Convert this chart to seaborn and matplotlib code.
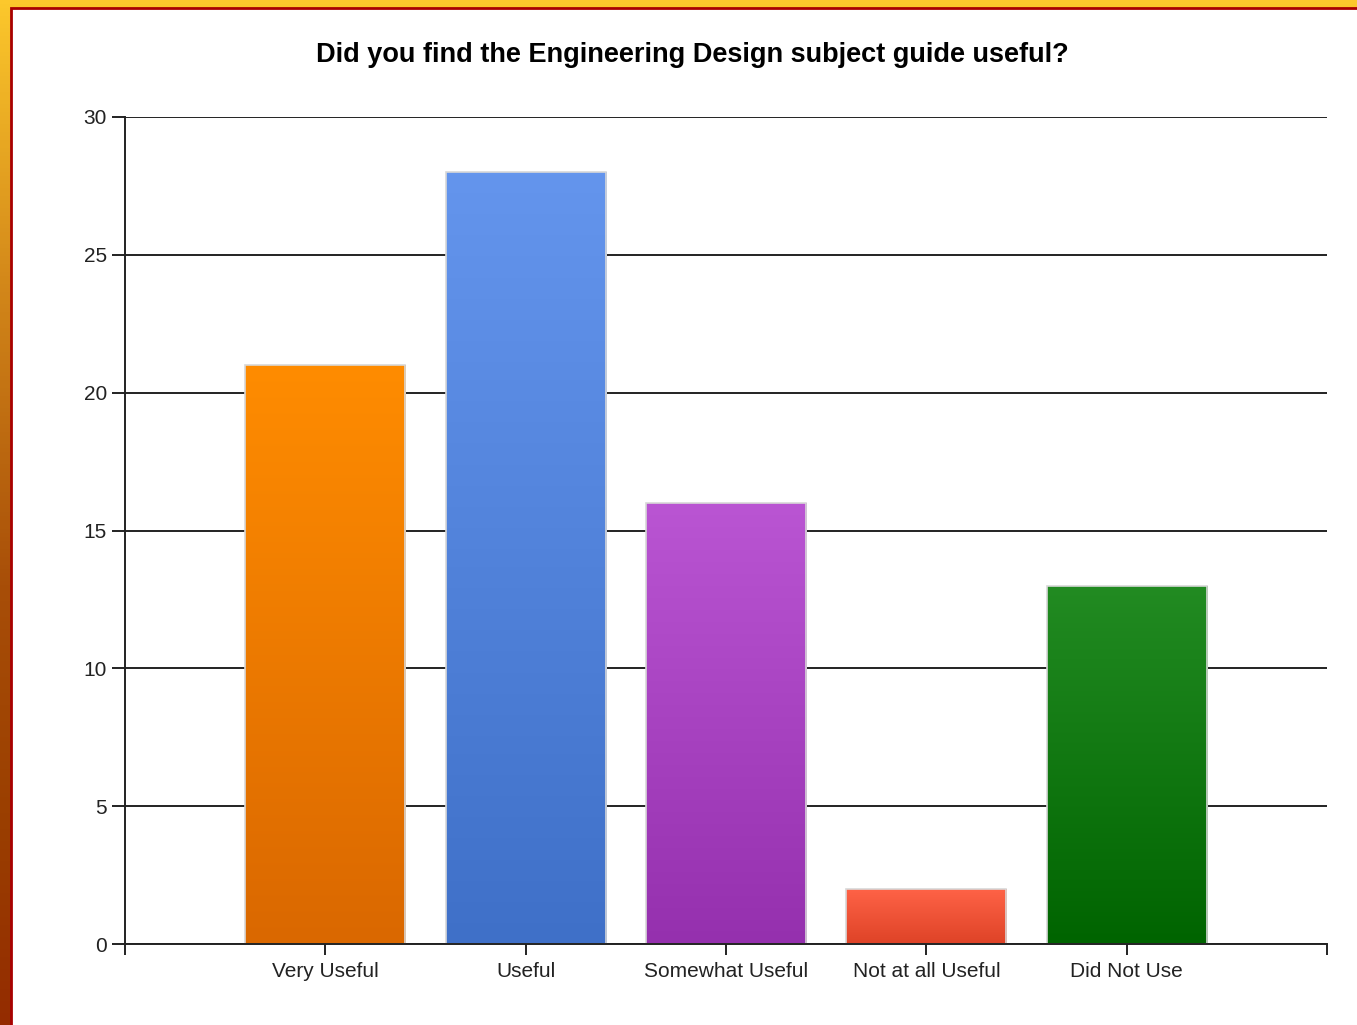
import numpy as np
import seaborn as sns
import matplotlib.pyplot as plt
from matplotlib.colors import LinearSegmentedColormap
from matplotlib.patches import Rectangle

## Data
categories = ['Very Useful', 'Useful', 'Somewhat Useful', 'Not at all Useful', 'Did Not Use']
counts = [21, 28, 16, 2, 13]
top_colors = ['#FF8C00', '#6495ED', '#BA55D3', '#FF6347', '#228B22']
bottom_colors = ['#DA6800', '#3F70C8', '#9530AE', '#DE4327', '#006400']
title = 'Did you find the Engineering Design subject guide useful?'
y_ticks = [0, 5, 10, 15, 20, 25, 30]

sns.set_theme(style='white')
plt.rcParams['font.family'] = ['Liberation Sans', 'DejaVu Sans']

W, H = 1357, 1025
fig = plt.figure(figsize=(W / 100, H / 100), dpi=100)

# Frame: vertical yellow -> brown gradient with a thin red inner line
bg = fig.add_axes([0, 0, 1, 1])
frame_cmap = LinearSegmentedColormap.from_list(
    'frame', [(0, '#FCC82C'), (0.27, '#D4891A'), (0.57, '#A84E08'), (0.81, '#9A3E00'), (1, '#942C00')])
grad = np.linspace(0, 1, 256).reshape(-1, 1)
bg.imshow(grad, cmap=frame_cmap, aspect='auto', extent=[0, W, H, 0])
bg.add_patch(Rectangle((11, 8), W + 20, H + 20, facecolor='white', edgecolor='#A80000', linewidth=2))
bg.set_xlim(0, W)
bg.set_ylim(H, 0)
bg.axis('off')

# Main plot area
ax = fig.add_axes([125 / W, (H - 944) / H, 1202 / W, (944 - 117) / H])
ax.set_facecolor('none')
sns.barplot(x=categories, y=counts, hue=categories, palette=top_colors, legend=False,
            width=0.8, edgecolor='#D8D8D8', linewidth=1.2, ax=ax, zorder=2)

# Gradient fill for each bar, clipped to its rectangle
for patch, c_top, c_bot in zip(ax.patches, top_colors, bottom_colors):
    x0, y0 = patch.get_x(), patch.get_y()
    w, h = patch.get_width(), patch.get_height()
    cmap = LinearSegmentedColormap.from_list('bar', [c_bot, c_top])
    img = ax.imshow(np.linspace(0, 1, 256).reshape(-1, 1), cmap=cmap, origin='lower',
                    aspect='auto', extent=[x0, x0 + w, y0, y0 + h], zorder=1.8)
    img.set_clip_path(patch)
    patch.set_facecolor('none')

ax.set_xlim(-1, len(categories))
ax.set_ylim(0, 30)
ax.set_yticks(y_ticks)
ax.set_xticks(range(-1, len(categories) + 1))
ax.set_xticklabels([''] + categories + [''])
ax.yaxis.grid(True, color='#222222', linewidth=1.4, zorder=0.5)
ax.set_axisbelow(True)
ax.set_xlabel('')
ax.set_ylabel('')

for side in ['top', 'right']:
    ax.spines[side].set_visible(False)
for side in ['left', 'bottom']:
    ax.spines[side].set_color('#222222')
    ax.spines[side].set_linewidth(1.4)

ax.tick_params(axis='both', direction='out', width=1.4, color='#222222',
               labelsize=15, labelcolor='#222222')
ax.tick_params(axis='x', length=8, pad=5, bottom=True)
ax.tick_params(axis='y', length=9.5, pad=3.5, left=True)

fig.text(692 / W, 1 - 62 / H, title, ha='center', va='baseline',
         fontsize=19.5, fontweight='bold', color='black')

fig.savefig('out.png', dpi=100)
